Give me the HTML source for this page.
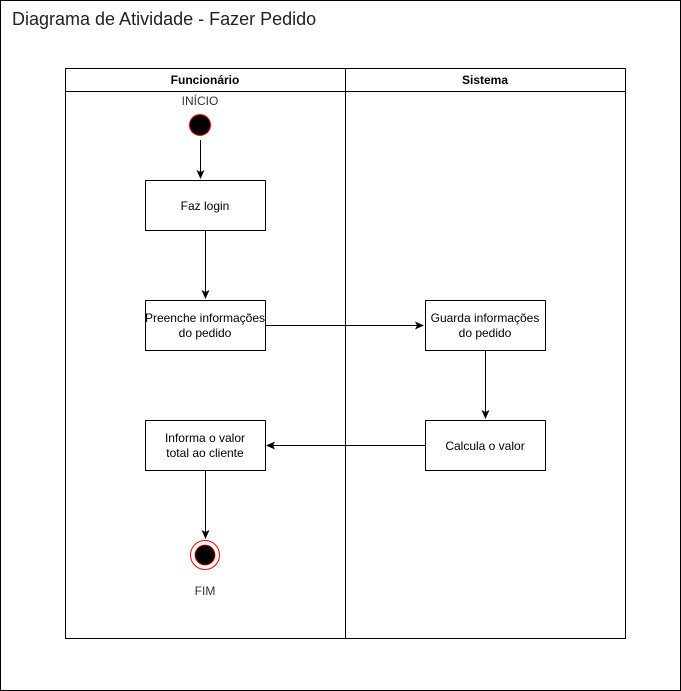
<!DOCTYPE html>
<html><head><meta charset="utf-8"><style>
html,body{margin:0;padding:0;background:#fff;}
svg{display:block;font-family:"Liberation Sans",Arial,sans-serif;}
</style></head><body>
<svg width="681" height="691" viewBox="0 0 681 691" xmlns="http://www.w3.org/2000/svg">
<defs><marker id="a" markerWidth="10" markerHeight="10" refX="8" refY="5" orient="auto" markerUnits="userSpaceOnUse"><path d="M0,1 L9,5 L0,9 L2,5 Z" fill="#000"/></marker></defs>
<rect x="0.5" y="0.5" width="680" height="690" fill="#fff" stroke="#000"/>
<text x="12" y="25" font-size="18" fill="#222">Diagrama de Atividade - Fazer Pedido</text>
<rect x="65.5" y="68.5" width="280" height="570" fill="none" stroke="#000"/>
<rect x="345.5" y="68.5" width="280" height="570" fill="none" stroke="#000"/>
<line x1="65" y1="91.5" x2="626" y2="91.5" stroke="#000"/>
<text x="205" y="84" font-size="12" font-weight="bold" text-anchor="middle">Funcionário</text>
<text x="485" y="84" font-size="12" font-weight="bold" text-anchor="middle">Sistema</text>
<text x="200" y="105" font-size="12" text-anchor="middle" fill="#333">INÍCIO</text>
<circle cx="200" cy="125" r="10.5" fill="#000" stroke="#f00" stroke-width="1"/>
<line x1="200.5" y1="140" x2="200.5" y2="178" stroke="#000" marker-end="url(#a)"/>
<g fill="#fff" stroke="#000">
<rect x="145.5" y="180.5" width="120" height="50"/>
<rect x="145.5" y="300.5" width="120" height="50"/>
<rect x="425.5" y="300.5" width="120" height="50"/>
<rect x="425.5" y="420.5" width="120" height="50"/>
<rect x="145.5" y="420.5" width="120" height="50"/>
</g>
<g font-size="12" text-anchor="middle">
<text x="205" y="210">Faz login</text>
<text x="205" y="322">Preenche informações</text><text x="205" y="337">do pedido</text>
<text x="485" y="322">Guarda informações</text><text x="485" y="337">do pedido</text>
<text x="485" y="450">Calcula o valor</text>
<text x="205" y="442">Informa o valor</text><text x="205" y="457">total ao cliente</text>
</g>
<g stroke="#000" fill="none">
<line x1="205.5" y1="231" x2="205.5" y2="298" marker-end="url(#a)"/>
<line x1="266" y1="325.5" x2="423" y2="325.5" marker-end="url(#a)"/>
<line x1="485.5" y1="351" x2="485.5" y2="418" marker-end="url(#a)"/>
<line x1="425" y1="445.5" x2="267" y2="445.5" marker-end="url(#a)"/>
<line x1="205.5" y1="471" x2="205.5" y2="538" marker-end="url(#a)"/>
</g>
<circle cx="205" cy="555" r="14.5" fill="#fff" stroke="#f00"/>
<circle cx="205" cy="555" r="10" fill="#000" stroke="#f00" stroke-width="0.8"/>
<text x="205" y="595" font-size="12" text-anchor="middle" fill="#333">FIM</text>
</svg>
</body></html>
